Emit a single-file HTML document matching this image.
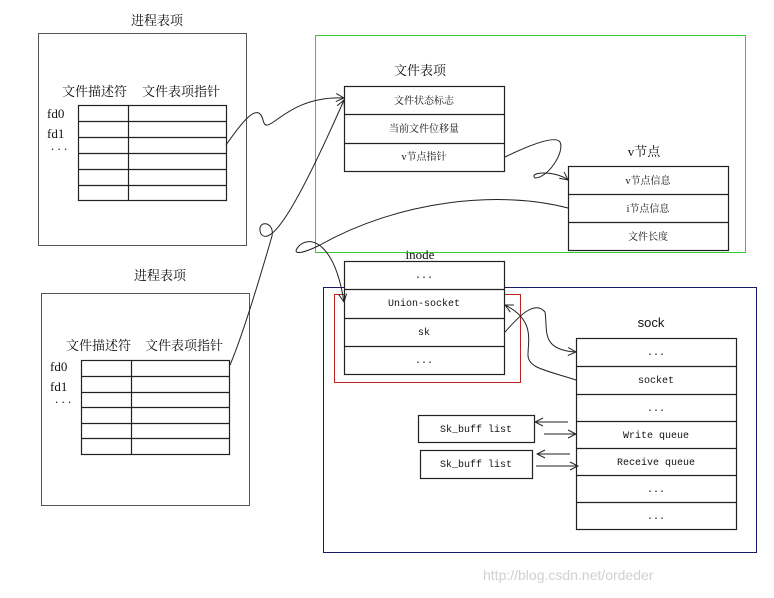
<!DOCTYPE html>
<html><head><meta charset="utf-8"><style>
html,body{margin:0;padding:0;background:#fff;}
svg text{font-family:"Liberation Serif","Noto Serif CJK SC","Noto Sans CJK SC",serif;fill:#111;}
svg text.m{font-family:"Liberation Mono","Noto Sans CJK SC",monospace;}
svg text.s{font-family:"Liberation Sans","Noto Sans CJK SC",sans-serif;}
</style></head><body>
<svg width="774" height="593" viewBox="0 0 774 593" xmlns="http://www.w3.org/2000/svg">
<defs><marker id="a" markerWidth="10" markerHeight="10" refX="9" refY="5" orient="auto" markerUnits="userSpaceOnUse"><path d="M1,1 L9,5 L1,9" fill="none" stroke="#222" stroke-width="1"/></marker></defs>
<g fill="none" stroke-width="1">
<rect x="315.5" y="35.5" width="430" height="217" stroke="#3c3"/>
<rect x="323.5" y="287.5" width="433" height="265" stroke="#1a1a6a"/>
<rect x="334.5" y="294.5" width="186" height="88" stroke="#b22"/>
<rect x="38.5" y="33.5" width="208" height="212" stroke="#555"/>
<rect x="41.5" y="293.5" width="208" height="212" stroke="#555"/>
</g>
<g fill="#fff" stroke="#222" stroke-width="1.2">
<rect x="78.5" y="105.5" width="148" height="95"/>
<path d="M78 121.5H226M78 137.5H226M78 153.5H226M78 169.5H226M78 185.5H226M128.5 105V200"/>
<rect x="81.5" y="360.5" width="148" height="94"/>
<path d="M81 376.5H229M81 392.5H229M81 407.5H229M81 423.5H229M81 438.5H229M131.5 360V454"/>
<rect x="344.5" y="86.5" width="160" height="85"/>
<path d="M344 114.5H505M344 143.5H505"/>
<rect x="568.5" y="166.5" width="160" height="84"/>
<path d="M568 194.5H729M568 222.5H729"/>
<rect x="344.5" y="261.5" width="160" height="113"/>
<path d="M344 289.5H505M344 318.5H505M344 346.5H505"/>
<rect x="576.5" y="338.5" width="160" height="191"/>
<path d="M576 366.5H737M576 394.5H737M576 421.5H737M576 448.5H737M576 475.5H737M576 502.5H737"/>
<rect x="418.5" y="415.5" width="116" height="27"/>
<rect x="420.5" y="450.5" width="112" height="28"/>
</g>
<g fill="none" stroke="#222" stroke-width="1">
<path d="M226,145 C240,125 258,100 263,120 C267,140 285,95 344,98" marker-end="url(#a)"/>
<path d="M230,365 C245,330 265,260 272,236 C275,220 255,220 261,234 C272,248 300,200 344,100" marker-end="url(#a)"/>
<path d="M505,157 C530,145 555,135 560,142 C565,152 548,178 535,178 C528,172 555,170 568,180" marker-end="url(#a)"/>
<path d="M568,208 C500,190 400,200 320,245 C300,255 290,255 300,245 C312,235 335,245 344,302" marker-end="url(#a)"/>
<path d="M505,332 C520,315 535,300 545,312 C548,330 540,350 576,352" marker-end="url(#a)"/>
<path d="M576,380 C545,370 528,368 528,355 C528,340 535,320 505,305" marker-end="url(#a)"/>
<path d="M568,422 H535" marker-end="url(#a)"/>
<path d="M544,434 H576" marker-end="url(#a)"/>
<path d="M570,454 H537" marker-end="url(#a)"/>
<path d="M536,466 H578" marker-end="url(#a)"/>
</g>
<g font-size="13">
<text x="157" y="25" text-anchor="middle">进程表项</text>
<text x="62" y="96">文件描述符</text><text x="142" y="96">文件表项指针</text>
<text x="47" y="118">fd0</text><text x="47" y="138">fd1</text><text x="51" y="150">. . .</text>
<text x="160" y="280" text-anchor="middle">进程表项</text>
<text x="66" y="350">文件描述符</text><text x="145" y="350">文件表项指针</text>
<text x="50" y="371">fd0</text><text x="50" y="391">fd1</text><text x="55" y="403">. . .</text>
<text x="420" y="75" text-anchor="middle">文件表项</text>
<text x="644" y="156" text-anchor="middle">v节点</text>
<text x="420" y="259" text-anchor="middle">inode</text>
<text class="s" x="651" y="327" text-anchor="middle">sock</text>
</g>
<g font-size="10" text-anchor="middle">
<text x="424" y="104">文件状态标志</text>
<text x="424" y="132">当前文件位移量</text>
<text x="424" y="160">v节点指针</text>
<text x="648" y="184">v节点信息</text>
<text x="648" y="212">i节点信息</text>
<text x="648" y="240">文件长度</text>
<text class="m" x="424" y="278">...</text>
<text class="m" x="424" y="306">Union-socket</text>
<text class="m" x="424" y="335">sk</text>
<text class="m" x="424" y="363">...</text>
<text class="m" x="656" y="355">...</text>
<text class="m" x="656" y="383">socket</text>
<text class="m" x="656" y="411">...</text>
<text class="m" x="656" y="438">Write queue</text>
<text class="m" x="656" y="465">Receive queue</text>
<text class="m" x="656" y="492">...</text>
<text class="m" x="656" y="519">...</text>
<text class="m" x="476" y="432">Sk_buff list</text>
<text class="m" x="476" y="467">Sk_buff list</text>
</g>
<text class="s" x="483" y="580" font-size="14" style="fill:#d0d0d0">http://blog.csdn.net/ordeder</text>
</svg>
</body></html>
